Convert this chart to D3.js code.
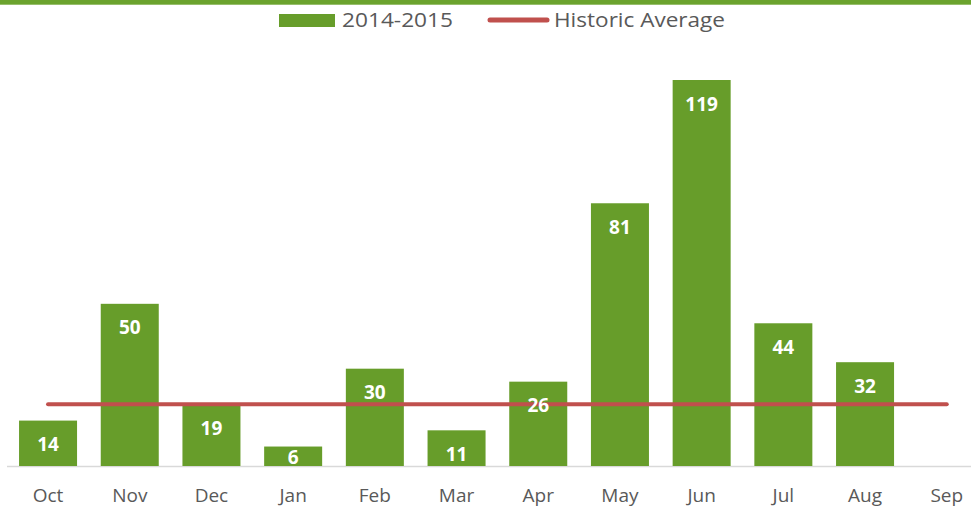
<!DOCTYPE html>
<html>
<head>
<meta charset="utf-8">
<script src="https://cdn.jsdelivr.net/npm/d3@7"></script>
<style>
  body { margin: 0; background: #fff; }
  svg { display: block; font-family: "Open Sans", sans-serif; }
</style>
</head>
<body>
<div id="chart"></div>
<script>
// valores
var months = ["Oct", "Nov", "Dec", "Jan", "Feb", "Mar", "Apr", "May", "Jun", "Jul", "Aug", "Sep"];
var season = [14, 50, 19, 6, 30, 11, 26, 81, 119, 44, 32, null];
var historicAvg = 19;
var seriesNames = ["2014-2015", "Historic Average"];

var width = 971, height = 510;
var baseY = 466;

var svg = d3.select("#chart").append("svg")
    .attr("width", width)
    .attr("height", height);

// barra verde no topo
svg.append("rect")
    .attr("x", 0).attr("y", 0)
    .attr("width", width).attr("height", 4.7)
    .attr("fill", "#6ba32e");

var x = d3.scaleBand()
    .domain(months)
    .range([7.2, 7.2 + 12 * 81.7])
    .paddingInner(0.29)
    .paddingOuter(0.145);

var y = d3.scaleLinear()
    .domain([0, 119])
    .range([baseY, 80]);

// eixo x
var xAxis = svg.append("g")
    .attr("transform", "translate(0," + baseY + ")")
    .call(d3.axisBottom(x).tickSize(0).tickPadding(23));
xAxis.select(".domain").remove();
xAxis.selectAll("text")
    .attr("font-family", "Open Sans, sans-serif")
    .attr("font-size", 19)
    .attr("fill", "#595959");

svg.append("line")
    .attr("x1", 7).attr("x2", width)
    .attr("y1", baseY + 0.5).attr("y2", baseY + 0.5)
    .attr("stroke", "#d9d9d9")
    .attr("stroke-width", 1.5);

var data = months.map(function (m, i) { return { m: m, v: season[i] }; })
    .filter(function (d) { return d.v != null; });

svg.selectAll("rect.bar")
    .data(data)
    .enter()
    .append("rect")
    .attr("class", "bar")
    .attr("x", function (d) { return x(d.m); })
    .attr("y", function (d) { return y(d.v); })
    .attr("width", x.bandwidth())
    .attr("height", function (d) { return baseY - y(d.v); })
    .attr("fill", "#679d2a");

// linha da media historica
svg.append("line")
    .attr("x1", x("Oct") + x.bandwidth() / 2)
    .attr("x2", x("Sep") + x.bandwidth() / 2)
    .attr("y1", y(historicAvg))
    .attr("y2", y(historicAvg))
    .attr("stroke", "#c0504d")
    .attr("stroke-width", 4)
    .attr("stroke-linecap", "round");

// rotulos dos valores
svg.selectAll("text.lbl")
    .data(data)
    .enter()
    .append("text")
    .attr("class", "lbl")
    .attr("x", function (d) { return x(d.m) + x.bandwidth() / 2; })
    .attr("y", function (d) { return Math.min(y(d.v) + 24, baseY - 9); })
    .attr("dy", "0.35em")
    .attr("text-anchor", "middle")
    .attr("font-size", 19)
    .attr("font-weight", "bold")
    .attr("fill", "#fff")
    .text(function (d) { return d.v; });

// legenda
var leg = svg.append("g");
leg.append("rect")
    .attr("x", 279).attr("y", 14)
    .attr("width", 56).attr("height", 13)
    .attr("fill", "#679d2a");
leg.append("text")
    .attr("x", 342).attr("y", 20)
    .attr("dy", "0.35em")
    .attr("font-size", 20)
    .attr("fill", "#595959")
    .attr("textLength", 111)
    .attr("lengthAdjust", "spacingAndGlyphs")
    .text(seriesNames[0]);
leg.append("line")
    .attr("x1", 490).attr("x2", 547)
    .attr("y1", 20).attr("y2", 20)
    .attr("stroke", "#c0504d")
    .attr("stroke-width", 5)
    .attr("stroke-linecap", "round");
leg.append("text")
    .attr("x", 554).attr("y", 20)
    .attr("dy", "0.35em")
    .attr("font-size", 20)
    .attr("fill", "#595959")
    .attr("textLength", 171)
    .attr("lengthAdjust", "spacingAndGlyphs")
    .text(seriesNames[1]);
</script>
</body>
</html>
